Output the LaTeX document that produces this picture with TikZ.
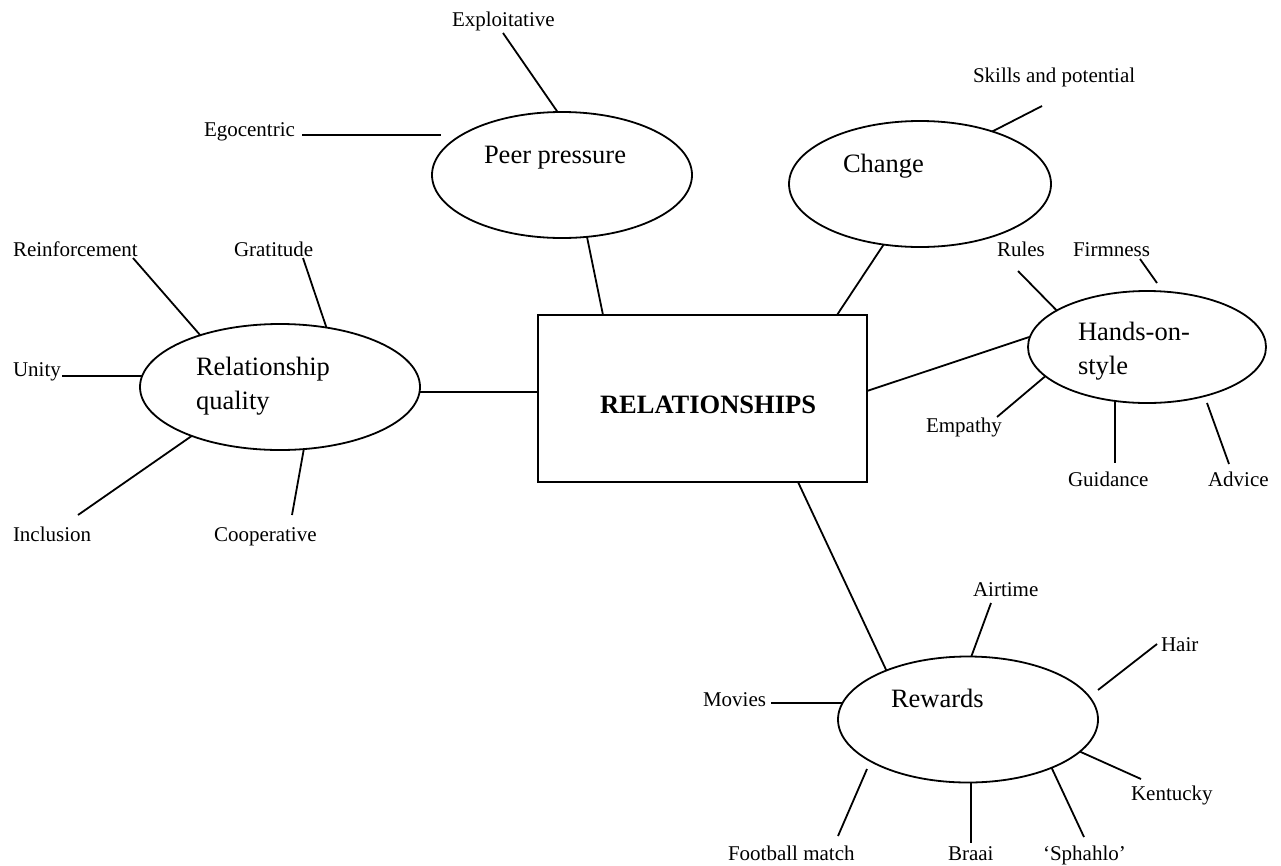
\documentclass[tikz,border=0pt]{standalone}
\usepackage{fontspec}
\setmainfont{Liberation Serif}
\usetikzlibrary{shapes.geometric}
\begin{document}
\begin{tikzpicture}[x=1pt,y=-1pt,
  every node/.style={inner sep=0pt, outer sep=0pt},
  conn/.style={line width=1.8pt, black},
  bubble/.style={ellipse, draw, line width=1.8pt},
  lbl/.style={anchor=base west, font=\fontsize{21}{24}\selectfont},
  btxt/.style={anchor=base west, font=\fontsize{26.5}{34}\selectfont, align=left},
]
\useasboundingbox (0,0) rectangle (1281,865);

% shapes
\node[bubble, minimum width=260pt, minimum height=126pt] (pp) at (562,175) {};
\node[bubble, minimum width=280pt, minimum height=126pt] (rq) at (280,387) {};
\node[bubble, minimum width=262pt, minimum height=126pt] (ch) at (920,184) {};
\node[bubble, minimum width=238pt, minimum height=112pt] (hs) at (1147,347) {};
\node[bubble, minimum width=260pt, minimum height=126pt] (rw) at (968,719.5) {};
\node[draw, line width=1.8pt, minimum width=329pt, minimum height=167pt] (box) at (702.5,398.5) {};

% main texts
\node[anchor=base, font=\bfseries\fontsize{26.5}{32}\selectfont] (boxt) at (708,413) {RELATIONSHIPS};
\node[btxt] (tpp) at (484,163) {Peer pressure};
\node[btxt] (trq) at (196,409) {Relationship\\quality};
\node[btxt] (tch) at (843,172) {Change};
\node[btxt] (ths) at (1078,374) {Hands-on-\\style};
\node[btxt] (trw) at (891,707) {Rewards};

% labels
\node[lbl] (lexp) at (452,26) {Exploitative};
\node[lbl] (lego) at (204,136) {Egocentric};
\node[lbl] (lskl) at (973,82) {Skills and potential};
\node[lbl] (lrei) at (13,256) {Reinforcement};
\node[lbl] (lgra) at (234,256) {Gratitude};
\node[lbl] (luni) at (13,376) {Unity};
\node[lbl] (linc) at (13,541) {Inclusion};
\node[lbl] (lcoo) at (214,541) {Cooperative};
\node[lbl] (lrul) at (997,256) {Rules};
\node[lbl] (lfir) at (1073,256) {Firmness};
\node[lbl] (lemp) at (926,432) {Empathy};
\node[lbl] (lgui) at (1068,486) {Guidance};
\node[lbl] (ladv) at (1208,486) {Advice};
\node[lbl] (lair) at (973,596) {Airtime};
\node[lbl] (lhai) at (1161,651) {Hair};
\node[lbl] (lmov) at (703,706) {Movies};
\node[lbl] (lken) at (1131,800) {Kentucky};
\node[lbl] (lfoo) at (728,860) {Football match};
\node[lbl] (lbra) at (948,860) {Braai};
\node[lbl] (lsph) at (1043,860) {‘Sphahlo’};

% free ends
\coordinate (eexp) at (503,33);
\coordinate (eego1) at (302,135);
\coordinate (eego2) at (441,135);
\coordinate (eskl) at (1042,106);
\coordinate (erei) at (133,258);
\coordinate (egra) at (303,258);
\coordinate (euni) at (62,376);
\coordinate (einc) at (78,515);
\coordinate (ecoo) at (292,515);
\coordinate (erul) at (1018,271);
\coordinate (efir1) at (1140,259);
\coordinate (efir2) at (1157,283);
\coordinate (eemp) at (997,417);
\coordinate (egui) at (1114,463);
\coordinate (eadv1) at (1207,403);
\coordinate (eadv2) at (1229,464);
\coordinate (eair) at (991,603);
\coordinate (ehai1) at (1157,644);
\coordinate (ehai2) at (1098,690);
\coordinate (emov) at (771,703);
\coordinate (eken) at (1141,779);
\coordinate (esph) at (1084,837);
\coordinate (ebra) at (971,843);
\coordinate (efoo1) at (867,769);
\coordinate (efoo2) at (838,836);

% connectors
\draw[conn] (eexp) -- (pp.94);
\draw[conn] (eego1) -- (eego2);
\draw[conn] (pp.292) -- ([xshift=65pt]box.north west);
\draw[conn] (eskl) -- (ch.36);
\draw[conn] (ch.239) -- ([xshift=299pt]box.north west);
\draw[conn] ([yshift=7.5pt]box.east) -- (hs.175);
\draw[conn] (erul) -- (hs.158);
\draw[conn] (efir1) -- (efir2);
\draw[conn] (eemp) -- (hs.196);
\draw[conn] (hs.239) -- (hs.239 |- egui);
\draw[conn] (eadv1) -- (eadv2);
\draw[conn] (rq.358) -- (rq.358 -| box.west);
\draw[conn] (erei) -- (rq.147);
\draw[conn] (egra) -- (rq.52);
\draw[conn] (euni) -- (rq.176 |- euni);
\draw[conn] (einc) -- (rq.209);
\draw[conn] (ecoo) -- (rq.291);
\draw[conn] ([xshift=95.5pt]box.south) -- (rw.149);
\draw[conn] (eair) -- (rw.87);
\draw[conn] (ehai1) -- (ehai2);
\draw[conn] (emov) -- (rw.173 |- emov);
\draw[conn] (eken) -- (rw.344);
\draw[conn] (esph) -- (rw.330);
\draw[conn] (rw.273) -- (rw.273 |- ebra);
\draw[conn] (efoo1) -- (efoo2);
\end{tikzpicture}
\end{document}
